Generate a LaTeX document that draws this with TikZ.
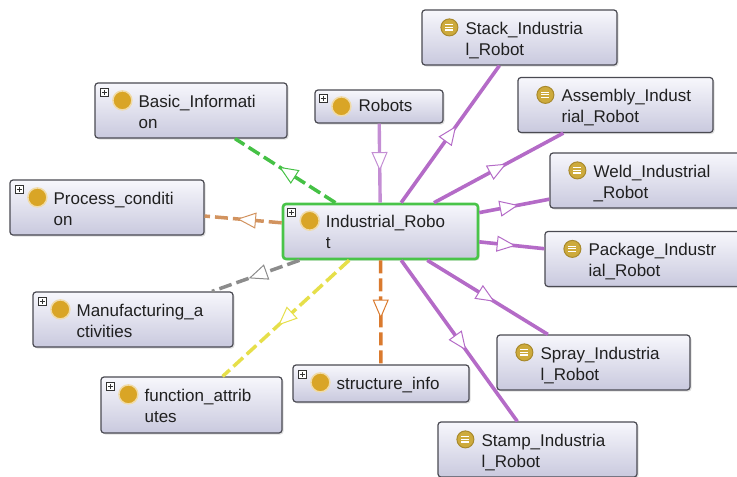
\documentclass[tikz,border=0pt]{standalone}
\usepackage{fontspec}
\setmainfont{Liberation Sans}
\usepackage{tikz}
\usetikzlibrary{
    arrows.meta,
    decorations.markings,
    shadows,
    positioning
}
\definecolor{boxline}{HTML}{4A4A52}
\definecolor{boxtop}{HTML}{F7F7FC}
\definecolor{boxbottom}{HTML}{C9C9DE}
\definecolor{focusgreen}{HTML}{49C449}
\definecolor{classgold}{HTML}{D9A526}
\definecolor{indivgold}{HTML}{CDAA3C}
\definecolor{indivring}{HTML}{A8892C}
\definecolor{subpurple}{HTML}{B46BC7}
\definecolor{robotpurple}{HTML}{C48ED4}
\definecolor{infogreen}{HTML}{45C145}
\definecolor{processtan}{HTML}{D2935F}
\definecolor{activitygray}{HTML}{8C8C8C}
\definecolor{attribyellow}{HTML}{E6DF4A}
\definecolor{structorange}{HTML}{DA7A2E}
\definecolor{textdark}{HTML}{202020}
\tikzset{
    ->-/.style={
        decoration={
            markings,
            mark=at position #1 with {\arrow{Triangle[fill=white, length=19pt, width=16pt, line width=1pt]}}
        },
        postaction={decorate}
    },
    cls/.style={
        shape=rectangle, rounded corners=3pt, inner sep=0pt,
        draw=boxline, line width=1.2pt,
        top color=boxtop, bottom color=boxbottom,
        drop shadow={shadow xshift=1.5pt, shadow yshift=-1.5pt, opacity=0.25}
    },
    focus/.style={draw=focusgreen, line width=2.6pt},
    lbl/.style={
        anchor=north west, inner sep=0pt, align=left, text=textdark,
        font=\fontsize{17}{21}\selectfont
    },
    classdot/.style={
        circle, fill=classgold, draw=classgold!40, line width=1.5pt,
        minimum size=19pt, inner sep=0pt
    },
    indivdot/.style={
        circle, fill=indivgold, draw=indivring, line width=1pt,
        minimum size=17pt, inner sep=0pt,
        path picture={
            \draw[white, line width=1.1pt]
                ([xshift=-4pt, yshift=2.6pt]path picture bounding box.center) --
                ([xshift=4pt, yshift=2.6pt]path picture bounding box.center)
                ([xshift=-4pt]path picture bounding box.center) --
                ([xshift=4pt]path picture bounding box.center)
                ([xshift=-4pt, yshift=-2.6pt]path picture bounding box.center) --
                ([xshift=4pt, yshift=-2.6pt]path picture bounding box.center);
        }
    },
    plusbox/.style={
        rectangle, draw=black!80, fill=white, line width=0.6pt,
        minimum size=8pt, inner sep=0pt,
        path picture={
            \draw[line width=0.9pt]
                ([xshift=-2.5pt]path picture bounding box.center) --
                ([xshift=2.5pt]path picture bounding box.center)
                ([yshift=-2.5pt]path picture bounding box.center) --
                ([yshift=2.5pt]path picture bounding box.center);
        }
    },
    dashedlink/.style={line width=3.5pt, dash pattern=on 13pt off 5pt},
    sublink/.style={line width=3.6pt, subpurple},
}

\begin{document}
\begin{tikzpicture}[x=1pt, y=-1pt]
    \clip (0,0) rectangle (737,477);

    % classes
    \node[cls, focus, minimum width=195pt, minimum height=55pt] (ind) at (380.5,231.5) {};
    \node[plusbox] (ind-plus) at ([xshift=10pt, yshift=-10pt]ind.north west) {};
    \node[classdot] (ind-dot) at ([xshift=28pt, yshift=-18pt]ind.north west) {};
    \node[lbl] (ind-lbl) at ([xshift=44pt, yshift=-12.5pt]ind.north west) {Industrial\_Robo\\t};

    \node[cls, minimum width=128pt, minimum height=33pt] (robots) at (379,106.5) {};
    \node[plusbox] (robots-plus) at ([xshift=9pt, yshift=-9pt]robots.north west) {};
    \node[classdot] (robots-dot) at ([xshift=27pt, yshift=-17pt]robots.north west) {};
    \node[lbl] (robots-lbl) at ([xshift=44pt, yshift=-10pt]robots.north west) {Robots};

    \node[cls, minimum width=192pt, minimum height=55pt] (basic) at (191,110.5) {};
    \node[plusbox] (basic-plus) at ([xshift=10pt, yshift=-10pt]basic.north west) {};
    \node[classdot] (basic-dot) at ([xshift=28pt, yshift=-18pt]basic.north west) {};
    \node[lbl] (basic-lbl) at ([xshift=44pt, yshift=-12.5pt]basic.north west) {Basic\_Informati\\on};

    \node[cls, minimum width=194pt, minimum height=55pt] (process) at (107,207.5) {};
    \node[plusbox] (process-plus) at ([xshift=10pt, yshift=-10pt]process.north west) {};
    \node[classdot] (process-dot) at ([xshift=28pt, yshift=-18pt]process.north west) {};
    \node[lbl] (process-lbl) at ([xshift=44pt, yshift=-12.5pt]process.north west) {Process\_conditi\\on};

    \node[cls, minimum width=200pt, minimum height=55pt] (manuf) at (133,319.5) {};
    \node[plusbox] (manuf-plus) at ([xshift=10pt, yshift=-10pt]manuf.north west) {};
    \node[classdot] (manuf-dot) at ([xshift=28pt, yshift=-18pt]manuf.north west) {};
    \node[lbl] (manuf-lbl) at ([xshift=44pt, yshift=-12.5pt]manuf.north west) {Manufacturing\_a\\ctivities};

    \node[cls, minimum width=181pt, minimum height=56pt] (func) at (191.5,405) {};
    \node[plusbox] (func-plus) at ([xshift=10pt, yshift=-10pt]func.north west) {};
    \node[classdot] (func-dot) at ([xshift=28pt, yshift=-18pt]func.north west) {};
    \node[lbl] (func-lbl) at ([xshift=44pt, yshift=-12.5pt]func.north west) {function\_attrib\\utes};

    \node[cls, minimum width=176pt, minimum height=37pt] (struct) at (381,383.5) {};
    \node[plusbox] (struct-plus) at ([xshift=10pt, yshift=-10pt]struct.north west) {};
    \node[classdot] (struct-dot) at ([xshift=28pt, yshift=-18pt]struct.north west) {};
    \node[lbl] (struct-lbl) at ([xshift=44pt, yshift=-12.5pt]struct.north west) {structure\_info};

    % individuals
    \node[cls, minimum width=195pt, minimum height=55pt] (stack) at (519.5,37.5) {};
    \node[indivdot] (stack-dot) at ([xshift=28pt, yshift=-18pt]stack.north west) {};
    \node[lbl] (stack-lbl) at ([xshift=44pt, yshift=-12.5pt]stack.north west) {Stack\_Industria\\l\_Robot};

    \node[cls, minimum width=195pt, minimum height=55pt] (assembly) at (615.5,105) {};
    \node[indivdot] (assembly-dot) at ([xshift=28pt, yshift=-18pt]assembly.north west) {};
    \node[lbl] (assembly-lbl) at ([xshift=44pt, yshift=-12.5pt]assembly.north west) {Assembly\_Indust\\rial\_Robot};

    % these two run past the right edge
    \node[cls, minimum width=195pt, minimum height=55pt] (weld) at (647.5,180.5) {};
    \node[indivdot] (weld-dot) at ([xshift=28pt, yshift=-18pt]weld.north west) {};
    \node[lbl] (weld-lbl) at ([xshift=44pt, yshift=-12.5pt]weld.north west) {Weld\_Industrial\\\_Robot};

    \node[cls, minimum width=195pt, minimum height=55pt] (package) at (642.5,259) {};
    \node[indivdot] (package-dot) at ([xshift=28pt, yshift=-18pt]package.north west) {};
    \node[lbl] (package-lbl) at ([xshift=44pt, yshift=-12.5pt]package.north west) {Package\_Industr\\ial\_Robot};

    \node[cls, minimum width=193pt, minimum height=55pt] (spray) at (593.5,362.5) {};
    \node[indivdot] (spray-dot) at ([xshift=28pt, yshift=-18pt]spray.north west) {};
    \node[lbl] (spray-lbl) at ([xshift=44pt, yshift=-12.5pt]spray.north west) {Spray\_Industria\\l\_Robot};

    \node[cls, minimum width=199pt, minimum height=55pt] (stamp) at (537.5,449.5) {};
    \node[indivdot] (stamp-dot) at ([xshift=28pt, yshift=-18pt]stamp.north west) {};
    \node[lbl] (stamp-lbl) at ([xshift=44pt, yshift=-12.5pt]stamp.north west) {Stamp\_Industria\\l\_Robot};

    % links
    \draw[infogreen, dashedlink, ->-=0.56] (ind) -- (basic);
    \draw[processtan, dashedlink, ->-=0.58] (ind) -- (process);
    \draw[activitygray, dashedlink, ->-=0.58] (ind) -- (manuf);
    \draw[attribyellow, dashedlink, ->-=0.56] (ind) -- (func);
    \draw[structorange, dashedlink, ->-=0.56] (ind) -- (struct);
    \draw[robotpurple, line width=3.4pt, ->-=0.6] (robots) -- (ind);
    \foreach \target in {stack, assembly, weld, package, spray, stamp}
        \draw[sublink, ->-=0.56] (ind) -- (\target);
\end{tikzpicture}
\end{document}
